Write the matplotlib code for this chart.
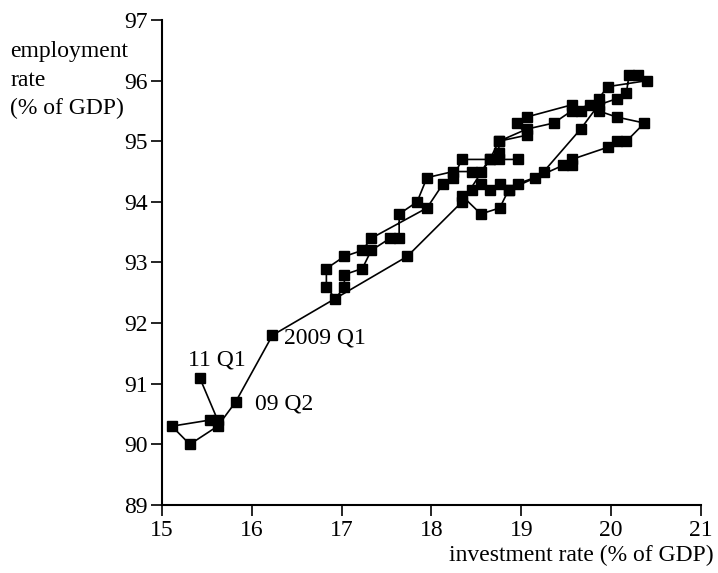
import matplotlib
matplotlib.use("Agg")
import matplotlib.pyplot as plt

plt.rcParams['font.family'] = ['Liberation Serif', 'DejaVu Serif']

# quarterly path: investment rate (x) vs employment rate (y)
invest = [18.96, 18.34, 18.24, 18.13, 17.95, 17.33, 17.23, 17.03, 16.83, 16.83,
          16.93, 17.03, 17.03, 17.23, 17.33, 17.54, 17.64, 17.64, 17.84, 17.95,
          18.24, 18.45, 18.55, 18.65, 18.75, 18.75, 18.75, 19.06, 18.95, 19.06,
          19.56, 19.66, 19.86, 19.96, 20.40, 20.30, 20.20, 20.17, 20.06, 19.86,
          19.66, 19.25, 19.15, 18.96, 18.86, 18.76, 18.65, 18.55, 18.45, 18.34,
          18.55, 18.76, 18.86, 19.46, 19.56, 19.56, 19.96, 20.06, 20.17, 20.37,
          20.06, 19.86, 19.76, 19.56, 19.36, 19.06, 18.75, 18.65, 18.34, 17.73,
          16.23, 15.82, 15.62, 15.31, 15.11, 15.53, 15.62, 15.42]
employ = [94.7, 94.7, 94.4, 94.3, 93.9, 93.4, 93.2, 93.1, 92.9, 92.6,
          92.4, 92.6, 92.8, 92.9, 93.2, 93.4, 93.4, 93.8, 94.0, 94.4,
          94.5, 94.5, 94.5, 94.7, 94.7, 94.8, 95.0, 95.1, 95.3, 95.4,
          95.6, 95.5, 95.7, 95.9, 96.0, 96.1, 96.1, 95.8, 95.7, 95.6,
          95.2, 94.5, 94.4, 94.3, 94.2, 94.3, 94.2, 94.3, 94.2, 94.1,
          93.8, 93.9, 94.2, 94.6, 94.6, 94.7, 94.9, 95.0, 95.0, 95.3,
          95.4, 95.5, 95.6, 95.5, 95.3, 95.2, 95.0, 94.7, 94.0, 93.1,
          91.8, 90.7, 90.3, 90.0, 90.3, 90.4, 90.4, 91.1]

# labelled quarters: (text, index into the path, label offset in data units)
labels = [("2009 Q1", 70, (0.13, -0.04)),
          ("09 Q2", 71, (0.22, -0.03)),
          ("11 Q1", 77, (-0.13, 0.29))]

xticks = [15, 16, 17, 18, 19, 20, 21]
yticks = [89, 90, 91, 92, 93, 94, 95, 96, 97]

ylabel_lines = ["employment", "rate", "(% of GDP)"]

fs = 17

fig = plt.figure(figsize=(7.18, 5.73), dpi=100)
ax = fig.add_axes([0.2256, 0.1187, 0.7507, 0.8464])

ax.plot(invest, employ, color='black', lw=1.2, marker='s', ms=6.8,
        mfc='black', mec='black', clip_on=False)

for text, i, (dx, dy) in labels:
    ax.text(invest[i] + dx, employ[i] + dy, text, fontsize=fs,
            ha='left', va='center')

ax.set_xlim(15, 21)
ax.set_ylim(89, 97)
ax.set_xticks(xticks)
ax.set_yticks(yticks)
ax.tick_params(direction='out', length=8, width=1.2, labelsize=fs,
               pad=2.5, color='black')

for side in ['top', 'right']:
    ax.spines[side].set_visible(False)
for side in ['left', 'bottom']:
    ax.spines[side].set_linewidth(1.5)

fig.text(0.994, 0.012, "investment rate (% of GDP)", fontsize=fs,
         ha='right', va='bottom')

# stacked y label, one line per text so it sits beside the tick labels
for k, line in enumerate(ylabel_lines):
    fig.text(0.014, 0.910 - k * 0.050, line, fontsize=fs,
             ha='left', va='center')

fig.savefig("out.png", dpi=100)
